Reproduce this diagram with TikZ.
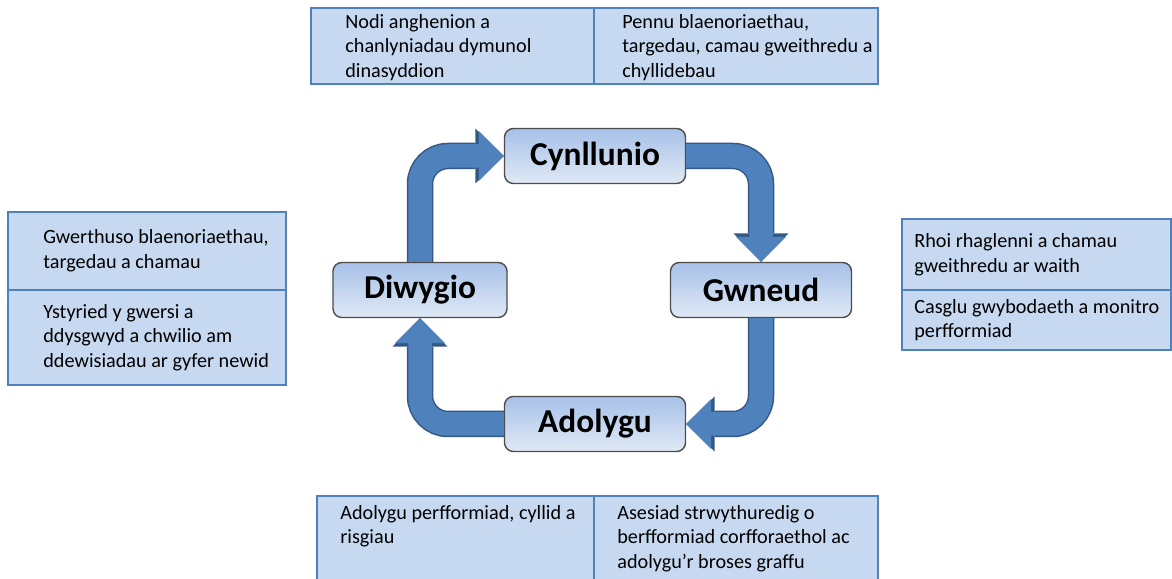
\documentclass[tikz,border=0pt]{standalone}
\usepackage{fontspec}
\setmainfont{Carlito}
\usetikzlibrary{arrows.meta}
\definecolor{cellfill}{RGB}{198,217,241}
\definecolor{celledge}{RGB}{79,129,189}
\definecolor{flowfill}{RGB}{79,129,189}
\definecolor{flowedge}{RGB}{52,88,132}
\definecolor{stagetop}{RGB}{167,193,233}
\definecolor{stagebot}{RGB}{224,233,245}
\tikzset{stage/.style = {draw=black!70, line width=0.8pt, rounded corners=5pt, top color=stagetop, bottom color=stagebot, minimum height=1.1cm, minimum width=3.62cm, font=\fontsize{19}{23}\selectfont\bfseries},
         cell/.style = {draw=celledge, fill=cellfill, line width=1.1pt, anchor=north west, outer sep=0pt, inner sep=0pt},
         note/.style = {anchor=west, align=left, inner sep=0pt, font=\fontsize{11.5}{14}\selectfont},
         flow/.style = {line width=0.47cm, draw=flowfill, rounded corners=0.56cm, -{Triangle[length=0.5cm, width=1.0cm, line width=0pt]},
                        preaction={draw=flowedge, line width=0.53cm, -{Triangle[length=0.57cm, width=1.1cm, line width=0pt]}}}}
\begin{document}
\begin{tikzpicture}
        \useasboundingbox(0,0) rectangle (23.44,11.58);

        \node[stage](cy) at (11.90,8.46) {Cynllunio};
        \node[stage](gw) at (15.22,5.78) {Gwneud};
        \node[stage,minimum width=3.48cm](dw) at (8.40,5.78) {Diwygio};
        \node[stage](ad) at (11.90,3.10) {Adolygu};

        \draw[flow](dw.north) |- (cy.west);
        \draw[flow](cy.east) -| (gw.north);
        \draw[flow](gw.south) |- (ad.east);
        \draw[flow](ad.west) -| (dw.south);

        \node[cell,minimum width=5.66cm,minimum height=1.52cm](tl) at (6.22,11.42) {};
        \node[cell,minimum width=5.68cm,minimum height=1.52cm](tr) at (tl.north east) {};
        \node[note](tltext) at ([xshift=0.68cm,yshift=-0.03cm]tl.west) {Nodi anghenion a\\chanlyniadau dymunol\\dinasyddion};
        \node[note](trtext) at ([xshift=0.56cm,yshift=-0.03cm]tr.west) {Pennu blaenoriaethau,\\targedau, camau gweithredu a\\chyllidebau};

        \node[cell,minimum width=5.56cm,minimum height=1.56cm](lt) at (0.16,7.34) {};
        \node[cell,minimum width=5.56cm,minimum height=1.90cm](lb) at (lt.south west) {};
        \node[note](lttext) at ([xshift=0.70cm]lt.west) {Gwerthuso blaenoriaethau,\\targedau a chamau};
        \node[note](lbtext) at ([xshift=0.70cm]lb.west) {Ystyried y gwersi a\\ddysgwyd a chwilio am\\ddewisiadau ar gyfer newid};

        \node[cell,minimum width=5.38cm,minimum height=1.42cm](rt) at (18.04,7.20) {};
        \node[cell,minimum width=5.38cm,minimum height=1.20cm](rb) at (rt.south west) {};
        \node[note](rttext) at ([xshift=0.24cm]rt.west) {Rhoi rhaglenni a chamau\\gweithredu ar waith};
        \node[note](rbtext) at ([xshift=0.24cm]rb.west) {Casglu gwybodaeth a monitro\\perfformiad};

        \node[cell,minimum width=5.54cm,minimum height=2.0cm](bl) at (6.34,1.66) {};
        \node[cell,minimum width=5.68cm,minimum height=2.0cm](br) at (bl.north east) {};
        \node[note,anchor=north west](bltext) at ([xshift=0.46cm,yshift=-0.18cm]bl.north west) {Adolygu perfformiad, cyllid a\\risgiau};
        \node[note,anchor=north west](brtext) at ([xshift=0.46cm,yshift=-0.18cm]br.north west) {Asesiad strwythuredig o\\berfformiad corfforaethol ac\\adolygu’r broses graffu};
    \end{tikzpicture}
\end{document}
